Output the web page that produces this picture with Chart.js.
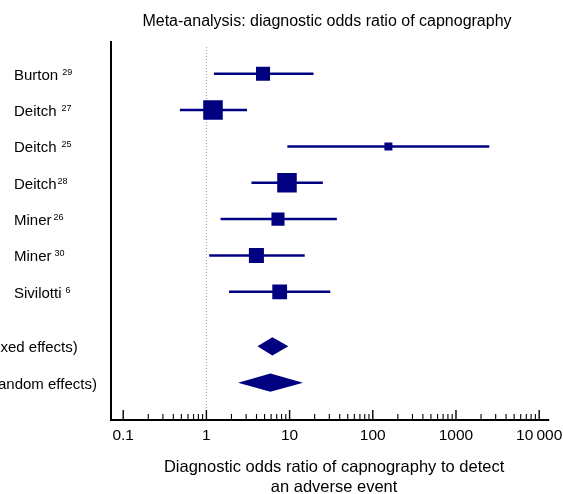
<!DOCTYPE html>
<html>
<head>
<meta charset="utf-8">
<script src="https://cdn.jsdelivr.net/npm/chart.js@4.4.0/dist/chart.umd.min.js"></script>
<style>
  body { margin: 0; background: #fff; }
  canvas { display: block; }
</style>
</head>
<body>
<canvas id="forest" width="563" height="494"></canvas>
<script>
// studies, top to bottom
const studies = ['Burton', 'Deitch', 'Deitch', 'Deitch', 'Miner', 'Miner', 'Sivilotti'];
const refs = ['29', '27', '25', '28', '26', '30', '6'];
const estimate = [4.79, 1.20, 154, 9.3, 7.25, 3.99, 7.60];
const lower = [1.23, 0.48, 9.4, 3.48, 1.48, 1.08, 1.87];
const upper = [19.4, 3.08, 2515, 25.1, 37.0, 15.2, 30.8];
const weights = [12.0, 23.3, 3.9, 23.3, 10.4, 13.8, 13.3]; // % weight

// pooled estimates
const pooledLabels = ['(fixed effects)', '(random effects)'];
const pooledEst = [6.21, 5.88];
const pooledLow = [4.10, 2.40];
const pooledHigh = [9.66, 14.5];

const xTicks = [0.1, 1, 10, 100, 1000, 10000];
const xTickLabels = ['0.1', '1', '10', '100', '1000', '10\u2009000'];

const navy = '#000080';
const family = '"Liberation Sans", Arial, sans-serif';
const font = '15px ' + family;

const rowY = studies.map((s, i) => i + 1);
const pooledY = [8.5, 9.5];

const forestPlugin = {
  id: 'forest',
  beforeDatasetsDraw(chart) {
    const c = chart.ctx, x = chart.scales.x, y = chart.scales.y;
    const a = chart.chartArea;
    c.save();
    // line of no effect
    c.strokeStyle = '#9a9ad8';
    c.lineWidth = 1;
    c.setLineDash([1, 2]);
    c.beginPath();
    c.moveTo(Math.round(x.getPixelForValue(1)) + 0.5, a.top + 6);
    c.lineTo(Math.round(x.getPixelForValue(1)) + 0.5, a.bottom);
    c.stroke();
    c.setLineDash([]);
    // confidence intervals
    c.strokeStyle = navy;
    c.lineWidth = 2.5;
    for (let i = 0; i < studies.length; i++) {
      const py = y.getPixelForValue(rowY[i]);
      c.beginPath();
      c.moveTo(x.getPixelForValue(lower[i]), py);
      c.lineTo(x.getPixelForValue(upper[i]), py);
      c.stroke();
    }
    // pooled diamonds
    c.fillStyle = navy;
    for (let i = 0; i < pooledEst.length; i++) {
      const yc = y.getPixelForValue(pooledY[i]);
      const yt = y.getPixelForValue(pooledY[i] - 0.25);
      const yb = y.getPixelForValue(pooledY[i] + 0.25);
      c.beginPath();
      c.moveTo(x.getPixelForValue(pooledLow[i]), yc);
      c.lineTo(x.getPixelForValue(pooledEst[i]), yt);
      c.lineTo(x.getPixelForValue(pooledHigh[i]), yc);
      c.lineTo(x.getPixelForValue(pooledEst[i]), yb);
      c.closePath();
      c.fill();
    }
    c.restore();
  },
  afterDraw(chart) {
    const c = chart.ctx, x = chart.scales.x, y = chart.scales.y;
    const a = chart.chartArea;
    c.save();
    c.fillStyle = '#000';
    c.strokeStyle = '#000';
    // axes
    c.lineWidth = 2;
    c.beginPath();
    c.moveTo(a.left, a.top);
    c.lineTo(a.left, a.bottom + 1);
    c.lineTo(a.right, a.bottom + 1);
    c.stroke();
    // ticks pointing inward
    for (let d = 0; d < xTicks.length; d++) {
      const base = xTicks[d];
      const px = x.getPixelForValue(base);
      c.lineWidth = 1.4;
      c.beginPath();
      c.moveTo(px, a.bottom);
      c.lineTo(px, a.bottom - 9);
      c.stroke();
      if (d < xTicks.length - 1) {
        c.lineWidth = 1.1;
        for (let m = 2; m <= 9; m++) {
          const mx = x.getPixelForValue(base * m);
          c.beginPath();
          c.moveTo(mx, a.bottom);
          c.lineTo(mx, a.bottom - 5);
          c.stroke();
        }
      }
    }
    // tick labels
    c.font = '15.5px ' + family;
    c.textAlign = 'center';
    c.textBaseline = 'middle';
    xTicks.forEach((t, i) => c.fillText(xTickLabels[i], x.getPixelForValue(t), 436));
    // axis title
    c.font = '16.5px ' + family;
    const midX = (a.left + a.right) / 2 + 4;
    c.fillText('Diagnostic odds ratio of capnography to detect', midX, 467);
    c.fillText('an adverse event', midX, 487);
    // chart title
    c.font = '16px ' + family;
    c.fillText('Meta-analysis: diagnostic odds ratio of capnography', 327, 22);
    // study labels
    c.textAlign = 'left';
    c.textBaseline = 'alphabetic';
    const gaps = [4, 5, 5, 1, 2, 3, 4];
    for (let i = 0; i < studies.length; i++) {
      const py = y.getPixelForValue(rowY[i]);
      c.font = font;
      c.fillText(studies[i], 14, py + 6);
      const w = c.measureText(studies[i]).width;
      c.font = '9px ' + family;
      c.fillText(refs[i], 14 + w + gaps[i], py + 1);
    }
    c.font = font;
    for (let i = 0; i < pooledLabels.length; i++) {
      const py = y.getPixelForValue(pooledY[i]);
      c.fillText(pooledLabels[i], -12, py + 6);
    }
    c.restore();
  }
};

new Chart(document.getElementById('forest').getContext('2d'), {
  type: 'scatter',
  data: {
    datasets: [{
      data: estimate.map((v, i) => ({ x: v, y: rowY[i] })),
      pointStyle: 'rect',
      pointRadius: weights.map(w => Math.sqrt(w) * 4.05 / Math.SQRT2),
      backgroundColor: navy,
      borderColor: navy,
      borderWidth: 0
    }]
  },
  options: {
    responsive: false,
    animation: false,
    layout: { padding: { left: 111, right: 13, top: 41, bottom: 75 } },
    plugins: { legend: { display: false }, title: { display: false }, tooltip: { enabled: false } },
    scales: {
      x: { type: 'logarithmic', min: 0.0713, max: 13190, display: false },
      y: { type: 'linear', min: 0.1, max: 10.5, reverse: true, display: false }
    }
  },
  plugins: [forestPlugin]
});
</script>
</body>
</html>
